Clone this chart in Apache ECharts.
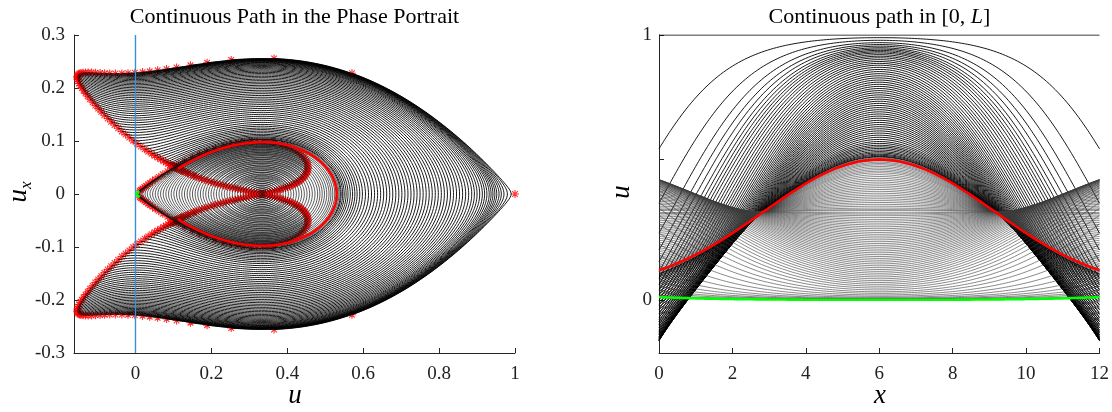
<!DOCTYPE html>
<html><head><meta charset="utf-8">
<script src="https://cdn.jsdelivr.net/npm/echarts@6/dist/echarts.min.js"></script>
<style>html,body{margin:0;padding:0;background:#fff}#c{width:1112px;height:412px}</style>
</head><body><div id="c"></div>
<script>
// Domain length [0, L]
const L = 12;
// Value u(L/2) of each drawn solution on the path
// humps outside the homoclinic loop
const lensTurn = [0.990, 0.980, 0.971, 0.964, 0.958, 0.952, 0.947, 0.942, 0.937, 0.932, 0.926, 0.920, 0.914, 0.907, 0.900, 0.893, 0.886, 0.878, 0.870, 0.862, 0.854, 0.846, 0.838, 0.830, 0.822, 0.814, 0.806, 0.798, 0.790, 0.782, 0.774, 0.766, 0.758, 0.750, 0.742, 0.734, 0.726, 0.718, 0.710, 0.702, 0.694, 0.686, 0.678, 0.670, 0.662, 0.654, 0.646, 0.638, 0.630, 0.622, 0.614, 0.606, 0.598, 0.591, 0.584, 0.578, 0.572, 0.566, 0.560, 0.555, 0.550, 0.546, 0.542, 0.5395];
// humps inside the loop (maximum at L/2)
const innerMaxTurn = [0.536, 0.533, 0.525, 0.520, 0.515, 0.510, 0.504, 0.498, 0.492, 0.486, 0.480, 0.473, 0.466, 0.459, 0.452, 0.445, 0.438, 0.431, 0.424, 0.417, 0.410, 0.403, 0.396, 0.389, 0.382, 0.375, 0.368, 0.361, 0.354, 0.347, 0.341, 0.337];
// bowls inside the loop (minimum at L/2)
const innerMinTurn = [0.329, 0.324, 0.318, 0.311, 0.304, 0.297, 0.290, 0.283, 0.276, 0.269, 0.262, 0.255, 0.248, 0.241, 0.234, 0.227, 0.220, 0.213, 0.206, 0.199, 0.192, 0.185, 0.178, 0.171, 0.164, 0.157, 0.150, 0.143, 0.136, 0.129, 0.122, 0.115, 0.108, 0.101, 0.094, 0.087, 0.080, 0.073, 0.066, 0.059, 0.052, 0.045, 0.038, 0.031, 0.025, 0.019, 0.014, 0.010, 0.007, 0.005, 0.0035, 0.0025, 0.0018, 0.0012, 0.0009];
// further path points near the homoclinic loop, marked by stars only
const starOnlyTurn = [0.5435, 0.5410, 0.5403, 0.5399, 0.5391, 0.5387, 0.5384, 0.5382, 0.5380, 0.5378, 0.5377, 0.53765, 0.5376, 0.53755,
  0.53745, 0.5374, 0.5373, 0.5372, 0.5370, 0.5368, 0.5365, 0.5355, 0.534, 0.528, 0.523, 0.518, 0.508, 0.496,
  0.0015, 0.0022, 0.003, 0.0042, 0.006, 0.0085, 0.012, 0.016, 0.022, 0.028, 0.035, 0.042, 0.049];
const redTurn = [0.530];
const greenTurn = [0.0007];
const constantStates = [1, 1/3];
// axes
const leftXTicks = [0, 0.2, 0.4, 0.6, 0.8, 1];
const leftYTicks = [-0.3, -0.2, -0.1, 0, 0.1, 0.2, 0.3];
const rightXTicks = [0, 2, 4, 6, 8, 10, 12];
const rightYTicks = [0, 0.53, 1];
const rightYLabels = [0, 1];
const leftXRange = [-0.162, 1];
const leftYRange = [-0.3, 0.3];
const rightXRange = [0, 12];
const rightYRange = [-0.2, 1];

// u_xx = u (u - 1/3)(u - 1)
function f(u) { return u * (u - 1 / 3) * (u - 1); }
function solve(u0) {
  const n = 600, h = (L / 2) / n, dt = -h;
  let u = u0, p = 0;
  const U = [u], P = [p];
  for (let i = 0; i < n; i++) {
    const k1u = p, k1p = f(u);
    const k2u = p + dt / 2 * k1p, k2p = f(u + dt / 2 * k1u);
    const k3u = p + dt / 2 * k2p, k3p = f(u + dt / 2 * k2u);
    const k4u = p + dt * k3p, k4p = f(u + dt * k3u);
    u += dt * (k1u + 2 * k2u + 2 * k3u + k4u) / 6;
    p += dt * (k1p + 2 * k2p + 2 * k3p + k4p) / 6;
    U.push(u); P.push(p);
  }
  const xu = [], up = [], step = 4;
  for (let j = n; j >= 0; j -= step) { xu.push([L / 2 - j * h, U[j]]); up.push([U[j], P[j]]); }
  for (let j = step; j <= n; j += step) { xu.push([L / 2 + j * h, U[j]]); up.push([U[j], -P[j]]); }
  return { xu, up, end: [U[n], P[n]] };
}

const series = [];
const stars = [];
function lineSeries(grid, data, color, width) {
  return { type: 'line', xAxisIndex: grid, yAxisIndex: grid, data, showSymbol: false, symbol: 'none', silent: true, animation: false, lineStyle: { color, width } };
}
function addFamily(list, colorL, widthL, colorR, widthR) {
  list.forEach(u0 => {
    const s = solve(u0);
    series.push(lineSeries(0, s.up, colorL, widthL));
    series.push(lineSeries(1, s.xu, colorR, widthR));
    stars.push([s.end[0], s.end[1]], [s.end[0], -s.end[1]]);
  });
}
series.push(lineSeries(1, [[0, constantStates[0]], [L, constantStates[0]]], '#000', 1));
constantStates.forEach(c => stars.push([c, 0]));
addFamily(lensTurn, '#000', 0.9, '#000', 0.9);
addFamily(innerMaxTurn, '#111', 0.7, '#3a3a3a', 0.6);
addFamily(innerMinTurn, '#111', 0.7, '#3a3a3a', 0.6);
addFamily(greenTurn, '#111', 0.7, '#3a3a3a', 0.6);
starOnlyTurn.forEach(u0 => { const s = solve(u0); stars.push([s.end[0], s.end[1]], [s.end[0], -s.end[1]]); });

// blue line u = 0
series.push(lineSeries(0, [[0, leftYRange[0]], [0, leftYRange[1]]], '#3b8fd6', 1.4));
// stars
series.push({ type: 'scatter', xAxisIndex: 0, yAxisIndex: 0, data: stars, silent: true, animation: false,
  symbol: 'path://M0,-5L0,5M-5,0L5,0M-3.5,-3.5L3.5,3.5M-3.5,3.5L3.5,-3.5', symbolSize: 8,
  itemStyle: { color: 'rgba(0,0,0,0)', borderColor: '#ff0000', borderWidth: 1.1 } });
// highlighted red and green solutions
const red = solve(redTurn[0]);
const green = solve(greenTurn[0]);
stars.push([red.end[0], red.end[1]], [red.end[0], -red.end[1]]);
series.push(lineSeries(0, red.up, '#ff0000', 2.6));
series.push(lineSeries(1, red.xu, '#ff0000', 2.6));
series.push(lineSeries(0, green.up, '#00ff00', 2.6));
series.push(lineSeries(1, green.xu, '#00ff00', 2.6));

const FONT = '"Liberation Serif", "Times New Roman", serif';
const AX = '#262626';
function fmt(v) { return String(Math.round(v * 10) / 10); }
function axisBase() {
  return {
    type: 'value', splitLine: { show: false },
    axisLine: { show: true, onZero: false, lineStyle: { color: AX, width: 1 } },
    axisTick: { show: true, inside: true, length: 5, lineStyle: { color: AX } },
    axisLabel: { color: '#222', fontFamily: FONT, fontSize: 19 }
  };
}
const xL = axisBase(), yL = axisBase(), xR = axisBase(), yR = axisBase();
Object.assign(xL, { gridIndex: 0, min: leftXRange[0], max: leftXRange[1] });
xL.axisTick.customValues = leftXTicks; xL.axisLabel.customValues = leftXTicks; xL.axisLabel.formatter = fmt; xL.axisLabel.margin = 12;
Object.assign(yL, { gridIndex: 0, min: leftYRange[0], max: leftYRange[1] });
yL.axisTick.customValues = leftYTicks; yL.axisLabel.customValues = leftYTicks; yL.axisLabel.formatter = fmt; yL.axisLabel.margin = 9;
Object.assign(xR, { gridIndex: 1, min: rightXRange[0], max: rightXRange[1] });
xR.axisTick.customValues = rightXTicks; xR.axisLabel.customValues = rightXTicks; xR.axisLabel.formatter = v => String(Math.round(v)); xR.axisLabel.margin = 12;
Object.assign(yR, { gridIndex: 1, min: rightYRange[0], max: rightYRange[1] });
yR.axisTick.customValues = rightYTicks; yR.axisLabel.customValues = rightYLabels; yR.axisLabel.formatter = v => String(Math.round(v)); yR.axisLabel.margin = 7;

const chart = echarts.init(document.getElementById('c'), null, { renderer: 'canvas' });
chart.setOption({
  animation: false,
  backgroundColor: '#fff',
  grid: [
    { left: 74, top: 35, width: 441, height: 318 },
    { left: 659, top: 35, width: 441, height: 318 }
  ],
  xAxis: [xL, xR],
  yAxis: [yL, yR],
  series,
  graphic: [
    { type: 'text', x: 294.5, y: 17, silent: true, style: { text: 'Continuous Path in the Phase Portrait', font: '22px ' + FONT, fill: '#000', align: 'center', verticalAlign: 'middle' } },
    { type: 'text', x: 879.5, y: 17, silent: true, style: { text: 'Continuous path in [0, {i|L}]', font: '22px ' + FONT, fill: '#000', align: 'center', verticalAlign: 'middle', rich: { i: { font: 'italic 22px ' + FONT, fill: '#000' } } } },
    { type: 'text', x: 295, y: 396, silent: true, style: { text: 'u', font: 'italic 27px ' + FONT, fill: '#000', align: 'center', verticalAlign: 'middle' } },
    { type: 'text', x: 880, y: 396, silent: true, style: { text: 'x', font: 'italic 27px ' + FONT, fill: '#000', align: 'center', verticalAlign: 'middle' } },
    { type: 'text', x: 20, y: 192, rotation: Math.PI / 2, silent: true, style: { text: '{i|u}{s|x}', align: 'center', verticalAlign: 'middle', rich: { i: { font: 'italic 27px ' + FONT, fill: '#000', lineHeight: 30, verticalAlign: 'top' }, s: { font: 'italic 17px ' + FONT, fill: '#000', lineHeight: 17, verticalAlign: 'bottom' } } } },
    { type: 'text', x: 622, y: 192, rotation: Math.PI / 2, silent: true, style: { text: 'u', font: 'italic 27px ' + FONT, fill: '#000', align: 'center', verticalAlign: 'middle' } }
  ]
});
</script>
</body></html>
